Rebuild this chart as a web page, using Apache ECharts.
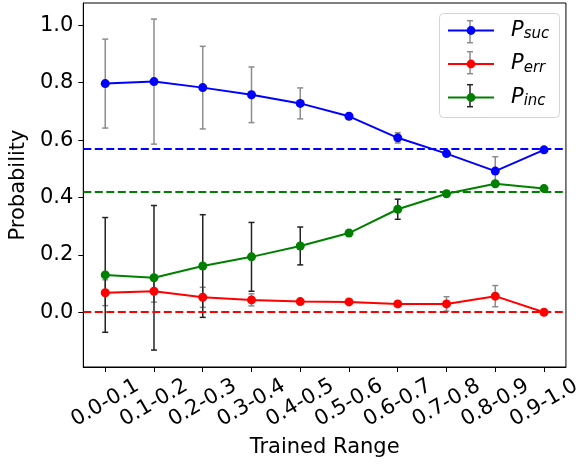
<!DOCTYPE html>
<html>
<head>
<meta charset="utf-8">
<script src="https://cdn.jsdelivr.net/npm/echarts@6/dist/echarts.min.js"></script>
<style>
  html, body { margin: 0; padding: 0; background: #fff; }
  #chart { width: 584px; height: 466px; }
</style>
</head>
<body>
<div id="chart"></div>
<script>
// Trained-range buckets along the x axis
const categories = ['0.0-0.1', '0.1-0.2', '0.2-0.3', '0.3-0.4', '0.4-0.5',
                    '0.5-0.6', '0.6-0.7', '0.7-0.8', '0.8-0.9', '0.9-1.0'];

// Mean probabilities per bucket and their spread (±)
const pSuc    = [0.797, 0.804, 0.783, 0.758, 0.728, 0.683, 0.608, 0.553, 0.492, 0.566];
const pSucStd = [0.155, 0.218, 0.144, 0.097, 0.054, 0.006, 0.018, 0.004, 0.050, 0.004];
const pErr    = [0.068, 0.073, 0.052, 0.043, 0.037, 0.036, 0.029, 0.029, 0.056, 0.000];
const pErrStd = [0.045, 0.038, 0.035, 0.021, 0.004, 0.004, 0.004, 0.025, 0.037, 0.000];
const pInc    = [0.130, 0.120, 0.161, 0.193, 0.231, 0.276, 0.359, 0.413, 0.448, 0.431];
const pIncStd = [0.200, 0.252, 0.179, 0.120, 0.066, 0.004, 0.035, 0.004, 0.004, 0.004];

// Reference levels drawn as dashed horizontal lines
const baseSuc = 0.573;
const baseErr = 0.0;
const baseInc = 0.425;

// Y tick labels
const yTicks = [0.0, 0.2, 0.4, 0.6, 0.8, 1.0];

const FONT = 'DejaVu Sans';
const chart = echarts.init(document.getElementById('chart'), null, { renderer: 'canvas' });

function lineSeries(name, values, color, base) {
  return {
    name: name,
    type: 'line',
    z: 3,
    data: values.map((v, i) => [i, v]),
    symbol: 'circle',
    symbolSize: 9,
    lineStyle: { color: color, width: 2 },
    itemStyle: { color: color },
    markLine: {
      silent: true,
      symbol: ['none', 'none'],
      label: { show: false },
      lineStyle: { color: color, type: [8, 3.5], width: 2 },
      data: [{ yAxis: base }]
    }
  };
}

function errorSeries(name, values, stds, color) {
  return {
    name: name,
    type: 'custom',
    z: 2,
    data: values.map((v, i) => [i, v - stds[i], v + stds[i]]),
    encode: { x: 0, y: [1, 2] },
    renderItem: function (params, api) {
      const lo = api.coord([api.value(0), api.value(1)]);
      const hi = api.coord([api.value(0), api.value(2)]);
      const cw = 3;
      const st = { stroke: color, lineWidth: 1.5 };
      return {
        type: 'group',
        children: [
          { type: 'line', shape: { x1: lo[0], y1: lo[1], x2: hi[0], y2: hi[1] }, style: st },
          { type: 'line', shape: { x1: lo[0] - cw, y1: lo[1], x2: lo[0] + cw, y2: lo[1] }, style: st },
          { type: 'line', shape: { x1: hi[0] - cw, y1: hi[1], x2: hi[0] + cw, y2: hi[1] }, style: st }
        ]
      };
    }
  };
}

// Small error-bar glyphs behind the legend markers
function legendBar(cx, cy, color) {
  const st = { stroke: color, lineWidth: 1.5 };
  return [
    { type: 'line', z: 4, shape: { x1: cx, y1: cy - 11, x2: cx, y2: cy + 11 }, style: st },
    { type: 'line', z: 4, shape: { x1: cx - 3, y1: cy - 11, x2: cx + 3, y2: cy - 11 }, style: st },
    { type: 'line', z: 4, shape: { x1: cx - 3, y1: cy + 11, x2: cx + 3, y2: cy + 11 }, style: st }
  ];
}

const option = {
  animation: false,
  backgroundColor: '#fff',
  grid: {
    left: 82, right: 13.5, top: 3, bottom: 99,
    show: true, borderColor: '#000', borderWidth: 1, backgroundColor: 'transparent'
  },
  xAxis: {
    type: 'value',
    min: -0.45, max: 9.45,
    name: 'Trained Range',
    nameLocation: 'middle',
    nameGap: 64,
    nameTextStyle: { fontFamily: FONT, fontSize: 21, color: '#000' },
    axisLine: { onZero: false, lineStyle: { color: '#000', width: 1 } },
    axisTick: {
      show: true, length: 5, inside: false,
      customValues: categories.map((c, i) => i),
      lineStyle: { color: '#000', width: 1 }
    },
    axisLabel: {
      customValues: categories.map((c, i) => i),
      formatter: v => categories[Math.round(v)],
      rotate: 30, align: 'center', verticalAlign: 'middle',
      margin: 36,
      fontFamily: FONT, fontSize: 21, color: '#000'
    },
    splitLine: { show: false }
  },
  yAxis: {
    type: 'value',
    min: -0.191, max: 1.078,
    name: 'Probability',
    nameLocation: 'middle',
    nameGap: 48,
    nameTextStyle: { fontFamily: FONT, fontSize: 21, color: '#000' },
    axisLine: { show: true, onZero: false, lineStyle: { color: '#000', width: 1 } },
    axisTick: {
      show: true, length: 5, inside: false,
      customValues: yTicks,
      lineStyle: { color: '#000', width: 1 }
    },
    axisLabel: {
      customValues: yTicks,
      formatter: v => v.toFixed(1),
      margin: 10,
      fontFamily: FONT, fontSize: 21, color: '#000'
    },
    splitLine: { show: false }
  },
  legend: {
    data: ['P_suc', 'P_err', 'P_inc'],
    orient: 'vertical',
    left: 440, top: 19,
    z: 10,
    padding: [0, 0, 0, 7],
    itemWidth: 46, itemHeight: 11, itemGap: 10.5,
    formatter: name => '{p|P}{s|' + name.split('_')[1] + '}',
    textStyle: {
      rich: {
        p: { fontFamily: FONT, fontStyle: 'italic', fontSize: 21, color: '#000', padding: [0, 0, 0, 12], lineHeight: 24 },
        s: { fontFamily: FONT, fontStyle: 'italic', fontSize: 15, color: '#000', padding: [8, 0, 0, 0], lineHeight: 24 }
      }
    }
  },
  graphic: [
    {
      type: 'rect', z: 3,
      shape: { x: 439.5, y: 13.5, width: 120, height: 104, r: 4 },
      style: { fill: 'rgba(255,255,255,0.85)', stroke: '#d5d5d5', lineWidth: 1 }
    }
  ].concat(legendBar(470, 31.7, '#8c8c8c'), legendBar(470, 62.7, '#8c8c8c'), legendBar(470, 95.7, '#222')),
  series: [
    errorSeries('P_suc spread', pSuc, pSucStd, '#8c8c8c'),
    errorSeries('P_err spread', pErr, pErrStd, '#8c8c8c'),
    errorSeries('P_inc spread', pInc, pIncStd, '#222'),
    lineSeries('P_suc', pSuc, '#0000ff', baseSuc),
    lineSeries('P_err', pErr, '#ff0000', baseErr),
    lineSeries('P_inc', pInc, '#008000', baseInc)
  ]
};

chart.setOption(option);
</script>
</body>
</html>
